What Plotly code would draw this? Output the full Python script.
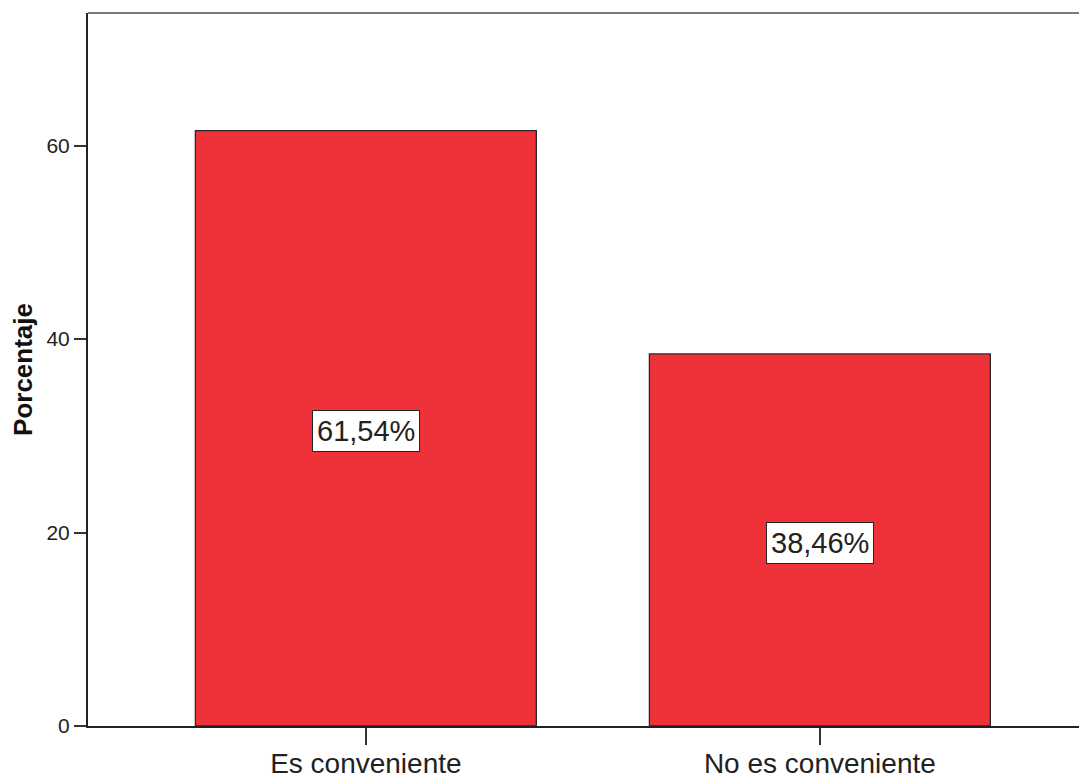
import plotly.graph_objects as go

categories = ["Es conveniente", "No es conveniente"]
percentages = [61.54, 38.46]
y_tickvals = [0, 20, 40, 60]
y_title = "Porcentaje"

labels = [f"{v:.2f}%".replace(".", ",") for v in percentages]

fig = go.Figure()
fig.add_trace(go.Bar(
    x=categories,
    y=percentages,
    width=0.751,
    marker=dict(color="#EF323A", line=dict(color="#2a2a2a", width=1.3)),
    hoverinfo="skip",
))

for c, v, t in zip(categories, percentages, labels):
    fig.add_annotation(
        x=c, y=v / 2, text=t, showarrow=False, yshift=-3,
        font=dict(family="Liberation Sans", size=29, color="#222222"),
        bgcolor="white", bordercolor="#222222", borderwidth=1, borderpad=4,
    )

# top frame line
fig.add_shape(type="line", xref="paper", yref="paper", x0=0, x1=1, y0=1, y1=1,
              line=dict(color="#7a7a7a", width=2))

fig.update_layout(
    width=1087, height=775,
    margin=dict(l=80, r=0, t=5, b=57, autoexpand=False),
    paper_bgcolor="white", plot_bgcolor="white",
    showlegend=False,
    font=dict(family="Liberation Sans", color="#222222"),
)
fig.update_xaxes(
    range=[-0.612, 1.606],
    showline=True, linecolor="#222222", linewidth=2,
    ticks="outside", ticklen=17, tickwidth=2, tickcolor="#333333",
    tickfont=dict(size=28, color="#222222"),
    ticklabelstandoff=-6,
    showgrid=False, zeroline=False, automargin=False,
)
fig.update_yaxes(
    range=[0, 73.7],
    tickvals=y_tickvals,
    showline=True, linecolor="#222222", linewidth=2,
    ticks="outside", ticklen=12, tickwidth=2, tickcolor="#333333",
    tickfont=dict(size=21, color="#222222"),
    showgrid=False, zeroline=False, automargin=False,
    title=dict(text="<b>" + y_title + "</b>", font=dict(size=26, color="#111111"), standoff=12),
)

fig.write_html("out.html")
